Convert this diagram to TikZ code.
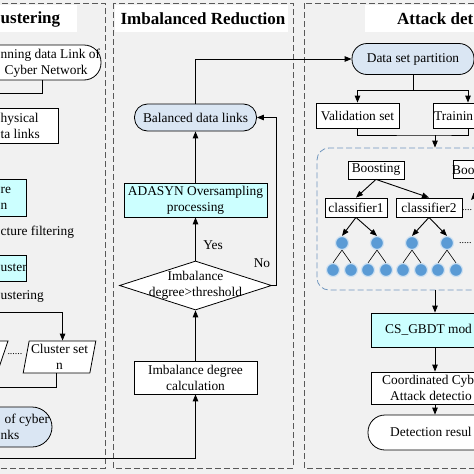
\documentclass[tikz,border=0pt]{standalone}
\usepackage{fontspec}
\setmainfont{Liberation Serif}
\usepackage{tikz}
\usetikzlibrary{arrows.meta,shapes.geometric}

\definecolor{panelgray}{RGB}{241,241,241}
\definecolor{cyanfill}{RGB}{204,255,255}
\definecolor{paleblue}{RGB}{218,230,243}
\definecolor{leafblue}{RGB}{91,155,213}
\definecolor{ensblue}{RGB}{112,150,190}

\begin{document}
\begin{tikzpicture}[x=1pt,y=1pt,yscale=-1,
  font=\fontsize{13.4}{16}\selectfont,
  proc/.style={draw, fill=white, line width=0.8pt, inner sep=1pt, align=center},
  hilite/.style={proc, fill=cyanfill},
  term/.style={proc, fill=paleblue, rounded corners=14pt},
  check/.style={draw, fill=white, line width=0.8pt, diamond, inner sep=0pt},
  iobox/.style={draw, fill=white, line width=0.8pt, trapezium, trapezium left angle=78, trapezium right angle=102, trapezium stretches=true, inner sep=1pt, align=center},
  ensemble/.style={draw=ensblue, line width=0.8pt, dash pattern=on 6pt off 3pt, rounded corners=12pt},
  leaf/.style={circle, fill=leafblue, draw=leafblue!30, line width=1.2pt, minimum size=13pt, inner sep=0pt},
  txt/.style={inner sep=0pt},
  headline/.style={inner sep=0pt, font=\bfseries\fontsize{17}{20}\selectfont},
  panel/.style={draw=black!65, line width=0.8pt, dash pattern=on 6pt off 3pt},
  arr/.style={line width=0.9pt, -{Triangle[length=7pt,width=5.5pt]}},
  link/.style={line width=0.9pt}]
\useasboundingbox (0,0) rectangle (474,474);
\clip (0,0) rectangle (474,474);

\fill[panelgray] (0,0) rectangle (474,474);
\draw[panel] (-20,3) rectangle (105,468);
\draw[panel] (113,3) rectangle (293,468);
\draw[panel] (304,3) rectangle (500,468);
\fill[white] (-5,5) rectangle (77,32);
\fill[white] (115,5) rectangle (288,32);
\fill[white] (365,5) rectangle (480,32);
\node[headline, anchor=west] (ttlL) at (0.5,19) {ustering};
\node[headline] (ttlM) at (203,19) {Imbalanced Reduction};
\node[headline, anchor=west] (ttlR) at (397,19) {Attack det};

% left column
\node[term, fill=white, rounded corners=17pt, minimum width=150, minimum height=35] (run) at (26,62.5) {};
\node[txt, anchor=west, align=left] (runt) at (0.5,63) {nning data Link of\\\hspace*{4pt}Cyber Network};
\node[proc, minimum width=118, minimum height=35] (phys) at (-1,125.5) {};
\node[txt, anchor=west, align=left] (physt) at (0.5,125.5) {hysical\\ta links};
\node[hilite, minimum width=86, minimum height=37] (feat) at (-17,197.5) {};
\node[txt, anchor=west, align=left] (featt) at (0.5,198) {re\\n};
\node[txt, anchor=west] (filt) at (0.5,232) {cture filtering};
\node[hilite, minimum width=86, minimum height=26] (clus) at (-17,268) {};
\node[txt, anchor=west] (clust) at (0.5,268) {uster};
\node[txt, anchor=west] (clusing) at (0.5,297) {ustering};
\node[iobox, minimum width=73, minimum height=32] (setn) at (59.5,357) {Cluster set\\n};
\node[iobox, minimum width=73, minimum height=32] (set2) at (-28.5,357) {};
\node[txt, font=\fontsize{10}{12}\selectfont] (setdots) at (15,354) {......};
\node[term, minimum width=150, minimum height=40, rounded corners=20pt] (cyber) at (-23,427) {};
\node[txt, anchor=west, align=left] (cybert) at (0.5,427) {\hspace*{4pt}of cyber\\nks};
\coordinate (runend) at (-10,93);
\coordinate (clusin) at (-10,312);
\coordinate (setout) at (-10,387);
\coordinate (feed) at (-10,458);

% middle column
\node[term, minimum width=122, minimum height=27, rounded corners=13pt] (bal) at (195.5,117.5) {Balanced data links};
\node[hilite, minimum width=143, minimum height=34] (ada) at (195.5,200) {ADASYN Oversampling\\processing};
\node[check, minimum width=152, minimum height=49] (dia) at (195.5,285.5) {};
\node[txt, align=center] (diat) at (dia) {Imbalance\\degree>threshold};
\node[proc, minimum width=123, minimum height=33] (imb) at (195.5,377.5) {Imbalance degree\\calculation};
\node[txt] (yes) at (213,245) {Yes};
\node[txt] (no) at (262,263) {No};

% right column
\node[term, minimum width=122, minimum height=31, rounded corners=15pt] (dsp) at (413,59) {Data set partition};
\node[proc, minimum width=83, minimum height=25] (val) at (357.5,115.5) {Validation set};
\node[proc, minimum width=70, minimum height=25] (train) at (468,115.5) {};
\node[txt, anchor=west] (traint) at (434,116) {Trainin};
\node[ensemble, minimum width=236, minimum height=142] (ens) at (435,219) {};
\node[proc, minimum width=56, minimum height=18] (boost) at (376,170) {Boosting};
\node[proc, minimum width=74, minimum height=18] (boo) at (490,169.5) {};
\node[txt, anchor=west] (boot) at (452,170) {Boo};
\node[proc, minimum width=62, minimum height=19] (clf1) at (356,207.5) {classifier1};
\node[proc, minimum width=66, minimum height=19] (clf2) at (429,207.5) {classifier2};
\node[txt, anchor=west, font=\fontsize{10}{12}\selectfont] (clfdots) at (462,210) {....};
\coordinate (clf3) at (471,200);
\foreach \i/\x in {1/342, 2/377, 3/412, 4/447} {
  \node[leaf] (tree\i) at (\x,243) {};
  \node[leaf] (kidL\i) at (\x-9,270) {};
  \node[leaf] (kidR\i) at (\x+9,270) {};
  \draw[line width=0.6pt] (tree\i.south) -- (kidL\i.north);
  \draw[line width=0.6pt] (tree\i.south) -- (kidR\i.north);
}
\node[txt, anchor=west, font=\fontsize{10}{12}\selectfont] (treedots) at (459,243) {.....};
\node[hilite, minimum width=128, minimum height=34] (cs) at (435,330) {};
\node[txt, anchor=west] (cst) at (385,330) {CS\_GBDT mod};
\node[proc, minimum width=128, minimum height=32] (coord) at (435,388) {};
\node[txt, anchor=west, align=left] (coordt) at (382,388) {Coordinated Cyb\\\hspace*{8pt}Attack detectio};
\node[term, fill=white, minimum width=134, minimum height=35, rounded corners=17pt] (det) at (435,432.5) {};
\node[txt, anchor=west] (dett) at (390,432) {Detection resul};
\coordinate (split) at (413,90);
\coordinate (merge) at (435,135);

% connectors
\draw[link] ([xshift=16pt]run.south) |- (runend);
\draw[arr] (clusin) -| (setn.top side);
\draw[link] (setn.bottom side) |- (setout);
\draw[arr] (feed) -| (imb.south);
\draw[arr] (imb.north) -- (dia.south);
\draw[arr] (dia.north) -- (ada.south);
\draw[arr] (ada.north) -- (bal.south);
\draw[arr] (dia.east) -- ++(5,0) |- (bal.east);
\draw[arr] (bal.north) |- (dsp.west);
\draw[arr] (dsp.south) |- (split) -| (val.north);
\draw[arr] (split) -| (train.north);
\draw[link] (val.south) |- (merge) -| (train.south);
\draw[arr] (merge) -- (ens.north);
\draw[arr] (boost.south) -- (clf1.north);
\draw[arr] (boost.south) -- (clf2.north);
\draw[arr] (boo.south) -- (clf3);
\draw[arr] (clf1.south) -- (tree1.north);
\draw[arr] (clf1.south) -- (tree2.north);
\draw[arr] (clf2.south) -- (tree3.north);
\draw[arr] (clf2.south) -- (tree4.north);
\draw[arr] (ens.south) -- (cs.north);
\draw[arr] (cs.south) -- (coord.north);
\draw[arr] (coord.south) -- (det.north);
\end{tikzpicture}
\end{document}
